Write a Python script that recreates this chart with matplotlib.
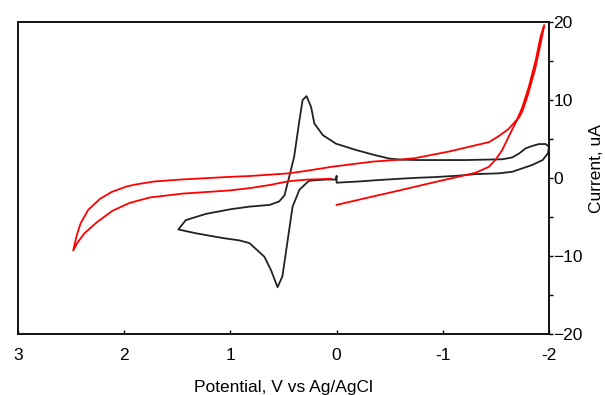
import matplotlib
matplotlib.use("Agg")
import matplotlib.pyplot as plt
from matplotlib.ticker import MultipleLocator

plt.rcParams['font.family'] = ['Liberation Sans', 'DejaVu Sans']

# Black CV (potential V, current uA) in scan order
black_x = [0.0, 0.0, -0.2, -0.4, -0.59, -0.78, -0.9, -1.15, -1.31, -1.53, -1.655, -1.75, -1.84, -1.94, -1.99, -2.0,
           -1.97, -1.905, -1.84, -1.78, -1.72, -1.655, -1.56, -1.215, -0.78, -0.6, -0.495, -0.37, -0.18,
           0.006, 0.13, 0.21, 0.24,
           0.283, 0.32, 0.35, 0.40, 0.446, 0.49, 0.54, 0.63, 0.82, 0.996, 1.23, 1.42, 1.49,
           1.32, 1.07, 0.915, 0.82, 0.68, 0.618, 0.556, 0.51, 0.46, 0.415, 0.35, 0.26, 0.1, 0.01, 0.0]
black_y = [0.2, -0.6, -0.45, -0.26, -0.1, 0.04, 0.1, 0.3, 0.5, 0.6, 0.8, 1.24, 1.66, 2.3, 3.16, 4.0,
           4.35, 4.35, 4.1, 3.8, 3.16, 2.64, 2.4, 2.3, 2.3, 2.35, 2.5, 2.9, 3.6,
           4.4, 5.5, 7.0, 9.1,
           10.5, 10.0, 7.4, 2.7, 0.17, -2.2, -3.0, -3.45, -3.67, -4.0, -4.6, -5.4, -6.6,
           -7.1, -7.7, -8.0, -8.35, -10.1, -11.8, -14.0, -12.6, -7.9, -3.7, -1.5, -0.35, -0.2, -0.2, 0.2]

# Red CV in scan order
red_x = [0.0, -0.3, -0.59, -0.90, -1.15, -1.31, -1.435, -1.50, -1.56, -1.62, -1.69, -1.75, -1.81, -1.875,
         -1.92, -1.955,
         -1.925, -1.87, -1.80, -1.75, -1.72, -1.62, -1.53, -1.435, -1.31, -1.06, -0.74, -0.59, -0.34, 0.04,
         0.27, 0.446, 0.82, 1.0, 1.47, 1.72, 1.9, 1.98, 2.12, 2.23, 2.34, 2.41, 2.45, 2.48,
         2.44, 2.375, 2.26, 2.11, 1.95, 1.76, 1.45, 1.01, 0.82, 0.63, 0.446, 0.27, 0.05]
red_y = [-3.45, -2.5, -1.6, -0.6, 0.17, 0.68, 1.44, 2.4, 3.6, 5.3, 7.2, 9.1, 11.7, 15.1,
         18.1, 19.6,
         17.5, 14.0, 10.6, 8.6, 7.8, 6.3, 5.4, 4.6, 4.2, 3.4, 2.55, 2.35, 2.1, 1.45,
         0.95, 0.6, 0.25, 0.15, -0.2, -0.45, -0.85, -1.1, -1.8, -2.7, -4.1, -5.8, -7.5, -9.3,
         -8.3, -7.1, -5.7, -4.2, -3.2, -2.5, -2.0, -1.6, -1.3, -0.9, -0.4, -0.2, -0.1]

x_ticks = [3, 2, 1, 0, -1, -2]
y_ticks = [-20, -10, 0, 10, 20]

fig = plt.figure(figsize=(6.05, 3.95), dpi=100)
ax = fig.add_axes([18/605, 1-334/395, (549-18)/605, (334-22)/395])

ax.plot(black_x, black_y, color='#222222', lw=1.3)
ax.plot(red_x, red_y, color='#ff0000', lw=1.3)

ax.set_xlim(3, -2)
ax.set_ylim(-20, 20)
ax.set_xticks(x_ticks)
ax.set_xticklabels([str(t) for t in x_ticks])
ax.set_yticks(y_ticks)
ax.yaxis.set_minor_locator(MultipleLocator(5))

ax.yaxis.tick_right()
ax.yaxis.set_label_position('right')
ax.tick_params(axis='x', direction='in', length=3, width=1, labelsize=12.5, pad=10, top=False)
ax.tick_params(axis='y', which='both', direction='out', length=3, width=1, labelsize=12.5, pad=0, left=False)

for s in ax.spines.values():
    s.set_linewidth(1.4)
    s.set_color('#111111')

ax.set_xlabel('Potential, V vs Ag/AgCl', fontsize=12.5, labelpad=12)
ax.set_ylabel('Current, uA', fontsize=12.5)
ax.yaxis.set_label_coords(1.0 + (589 - 549) / 531, 0.53)

fig.savefig('out.png', dpi=100)
